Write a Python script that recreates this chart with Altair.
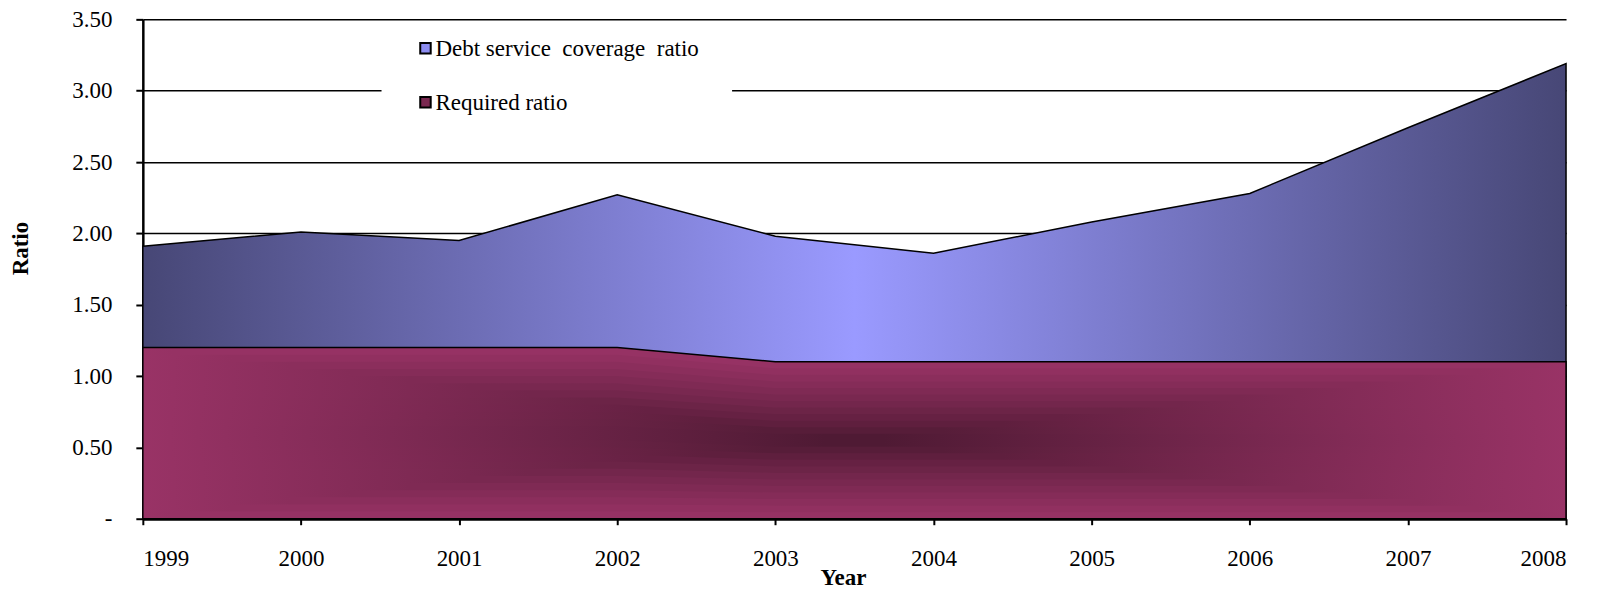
import altair as alt
import pandas as pd

years = [1999, 2000, 2001, 2002, 2003, 2004, 2005, 2006, 2007, 2008]
dscr = [1.91, 2.01, 1.95, 2.27, 1.98, 1.86, 2.08, 2.28, 2.74, 3.19]
required = [1.20, 1.20, 1.20, 1.20, 1.10, 1.10, 1.10, 1.10, 1.10, 1.10]
y_ticks = [0, 0.5, 1.0, 1.5, 2.0, 2.5, 3.0, 3.5]
legend_labels = ["Debt service\u00a0 coverage\u00a0 ratio", "Required ratio"]

df = pd.DataFrame({"Year": years, "DSCR": dscr, "Required": required})
one = pd.DataFrame({"k": [0]})

FONT = "Liberation Serif"
FS = 23
W, H = 1425, 500

blue_grad = alt.Gradient(
    gradient="linear", x1=0, x2=1, y1=0, y2=0,
    stops=[alt.GradientStop(offset=0, color="#474776"),
           alt.GradientStop(offset=0.5, color="#9a9aff"),
           alt.GradientStop(offset=1, color="#474776")])

DARK = (0x4a, 0x18, 0x30)
EDGE = (0x99, 0x33, 0x66)


def mix(t):
    t = max(0.0, min(1.0, t)) ** 0.85
    return "#%02x%02x%02x" % tuple(int(round(d + (e - d) * t)) for d, e in zip(DARK, EDGE))


x_enc = alt.X("Year:Q",
              scale=alt.Scale(domain=[1999, 2008], nice=False, zero=False),
              axis=alt.Axis(values=years, format="d", title="Year", grid=False,
                            domainWidth=3, tickSize=6, labelPadding=23,
                            titleX=701, titleY=66, titleAlign="center",
                            titleBaseline="alphabetic", titleAngle=0))
y_scale = alt.Scale(domain=[0, 3.5], nice=False)
y_axis = alt.Axis(values=y_ticks, title="Ratio", grid=True,
                  labelExpr="datum.value == 0 ? '-\u00a0\u00a0' : format(datum.value, '.2f')",
                  domainWidth=2.5, tickSize=7, labelPadding=24,
                  titleX=-122, titleY=229, titleAngle=270,
                  titleAlign="center", titleBaseline="middle")

area_dscr = alt.Chart(df).mark_area(
    fill=blue_grad, stroke="black", strokeWidth=1.5, interpolate="linear"
).encode(x=x_enc, y=alt.Y("DSCR:Q", scale=y_scale, axis=y_axis))

# Required ratio area, drawn as nested bands to mimic a rectangular "from centre" gradient
N = 24
bands = []
for i in range(N - 1, -1, -1):
    hi = (i + 1) / N
    v = (i + 0.5) / N
    ty = abs(v - 0.5) / 0.5
    grad = alt.Gradient(
        gradient="linear", x1=0, x2=1, y1=0, y2=0,
        stops=[alt.GradientStop(offset=0, color=mix(1)),
               alt.GradientStop(offset=0.5 - 0.5 * ty, color=mix(ty)),
               alt.GradientStop(offset=0.5 + 0.5 * ty + 1e-6, color=mix(ty)),
               alt.GradientStop(offset=1, color=mix(1))])
    bands.append(
        alt.Chart(df).transform_calculate(top=f"datum.Required * {hi}")
        .mark_area(fill=grad, interpolate="linear")
        .encode(x=alt.X("Year:Q"), y=alt.Y("top:Q"))
    )

req_outline = alt.Chart(df).mark_area(
    fill="white", fillOpacity=0, stroke="black", strokeWidth=1.5, interpolate="linear"
).encode(x=alt.X("Year:Q"), y=alt.Y("Required:Q"))

legend_box = alt.Chart(one).mark_rect(fill="white").encode(
    x=alt.value(239), x2=alt.value(590), y=alt.value(7), y2=alt.value(111))

sq1 = alt.Chart(one).mark_square(size=110, fill="#8c8cf0", stroke="black",
                                 strokeWidth=2, opacity=1).encode(
    x=alt.value(283), y=alt.value(29))
sq2 = alt.Chart(one).mark_square(size=110, fill="#7a2850", stroke="black",
                                 strokeWidth=2, opacity=1).encode(
    x=alt.value(283), y=alt.value(83))
t1 = alt.Chart(one).mark_text(font=FONT, fontSize=FS, align="left",
                              baseline="middle", color="black").encode(
    x=alt.value(293), y=alt.value(29.5), text=alt.value(legend_labels[0]))
t2 = alt.Chart(one).mark_text(font=FONT, fontSize=FS, align="left",
                              baseline="middle", color="black").encode(
    x=alt.value(293), y=alt.value(83.5), text=alt.value(legend_labels[1]))

chart = alt.layer(area_dscr, *bands, req_outline, legend_box, sq1, sq2, t1, t2).properties(
    width=W, height=H,
    padding={"left": 135, "top": 11, "right": 26, "bottom": 72},
    autosize=alt.AutoSizeParams(type="none"),
    background="white",
).configure_view(stroke=None).configure_axis(
    domainColor="black", tickColor="black", tickWidth=2,
    gridColor="black", gridWidth=1.5, gridOpacity=1,
    labelFont=FONT, labelFontSize=FS, labelColor="black",
    titleFont=FONT, titleFontSize=FS, titleFontWeight="bold", titleColor="black",
)

chart.save("out.html", embed_options={"renderer": "svg", "actions": False})
